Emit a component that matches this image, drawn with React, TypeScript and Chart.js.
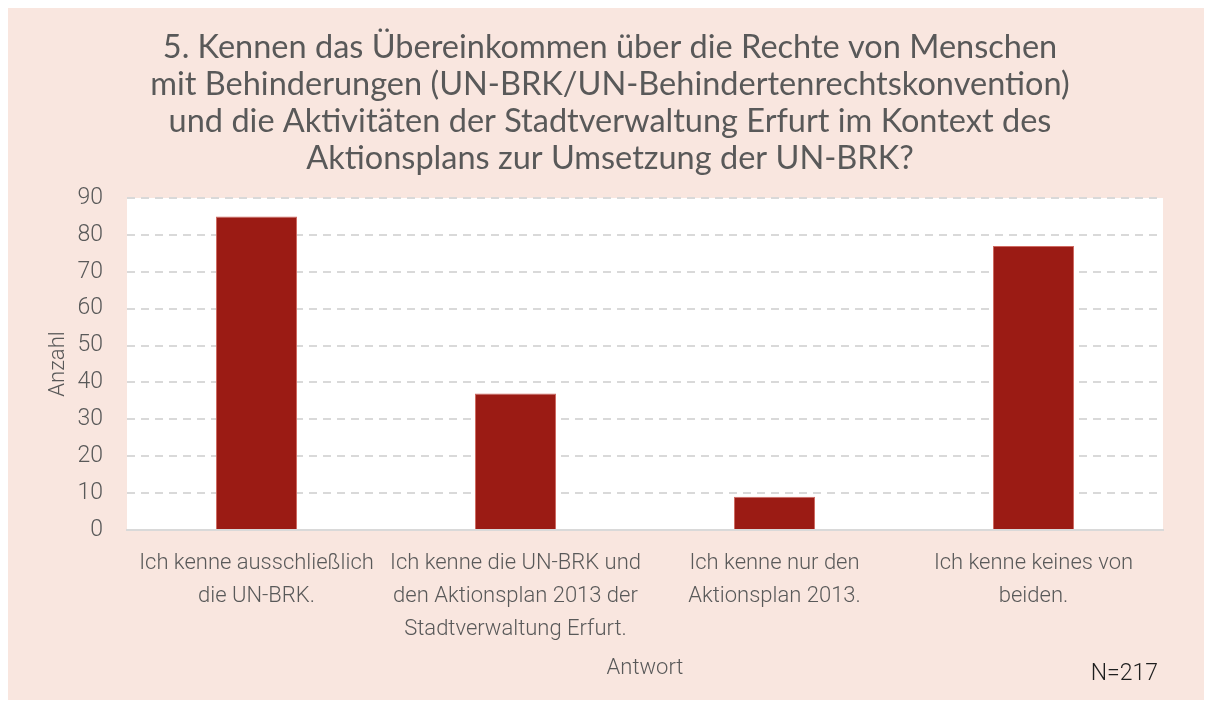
import React, { useEffect, useRef } from "react";
import { Chart, registerables } from "chart.js";

Chart.register(...registerables);

const titleLines = [
  "5. Kennen das Übereinkommen über die Rechte von Menschen",
  "mit Behinderungen (UN-BRK/UN-Behindertenrechtskonvention)",
  "und die Aktivitäten der Stadtverwaltung Erfurt im Kontext des",
  "Aktionsplans zur Umsetzung der UN-BRK?",
];

const categories: string[][] = [
  ["Ich kenne ausschließlich", "die UN-BRK."],
  ["Ich kenne die UN-BRK und", "den Aktionsplan 2013 der", "Stadtverwaltung Erfurt."],
  ["Ich kenne nur den", "Aktionsplan 2013."],
  ["Ich kenne keines von", "beiden."],
];

const counts = [85, 37, 9, 77];

const yAxisTitle = "Anzahl";
const xAxisTitle = "Antwort";
const sampleNote = "N=217";

const TEXT = "#595959";
const BAR = "#9b1b14";
const GRID = "#d9d9d9";
const BG = "#f9e6df";
const NARROW = "Roboto, 'DejaVu Sans Condensed', sans-serif";

export default function App() {
  const ref = useRef<HTMLCanvasElement | null>(null);

  useEffect(() => {
    if (!ref.current) return;

    const plotBg = {
      id: "plotBg",
      beforeDraw(chart: any) {
        const { ctx, chartArea } = chart;
        ctx.save();
        ctx.fillStyle = "#ffffff";
        ctx.fillRect(chartArea.left, chartArea.top, chartArea.right - chartArea.left, chartArea.bottom - chartArea.top);
        ctx.restore();
      },
    };

    const note = {
      id: "note",
      afterDraw(chart: any) {
        const { ctx } = chart;
        ctx.save();
        ctx.font = `300 23px ${NARROW}`;
        ctx.fillStyle = "#1e1e1e";
        ctx.textAlign = "right";
        ctx.textBaseline = "middle";
        ctx.fillText(sampleNote, 1151, 666);
        ctx.restore();
      },
    };

    const chart = new Chart(ref.current, {
      type: "bar",
      data: {
        labels: categories,
        datasets: [
          {
            data: counts,
            backgroundColor: BAR,
            borderColor: "#cf6a62",
            borderWidth: 1,
            barPercentage: 1,
            categoryPercentage: 0.313,
            yAxisID: "y",
          },
        ],
      },
      options: {
        responsive: false,
        animation: false,
        layout: { padding: { left: 8, right: 0, top: 0, bottom: 0 } },
        plugins: {
          legend: { display: false },
          tooltip: { enabled: false },
          title: {
            display: true,
            text: titleLines,
            color: TEXT,
            font: { family: "Lato, 'Open Sans', sans-serif", size: 32.5, weight: "normal", lineHeight: "37px" },
            padding: { top: 21, bottom: 21 },
          },
        },
        scales: {
          x: {
            grid: { display: false, drawTicks: false },
            border: { display: true, color: GRID, width: 2 },
            ticks: {
              color: TEXT,
              font: { family: NARROW, size: 22, weight: "300", lineHeight: "33px" },
              padding: 17,
              maxRotation: 0,
              autoSkip: false,
            },
            title: {
              display: true,
              text: xAxisTitle,
              color: TEXT,
              font: { family: NARROW, size: 22, weight: "300" },
              padding: { top: 0, bottom: 18 },
            },
            afterFit(scale: any) {
              scale.height = 170;
            },
          },
          y: {
            position: "left",
            min: 0,
            max: 90,
            grid: {
              color: GRID,
              lineWidth: 2,
              drawTicks: false,
            },
            border: { display: false, dash: [8, 6] },
            ticks: {
              stepSize: 10,
              color: TEXT,
              font: { family: NARROW, size: 23, weight: "300" },
              padding: 24,
            },
            title: {
              display: true,
              text: yAxisTitle,
              color: TEXT,
              font: { family: NARROW, size: 22, weight: "300" },
              padding: { top: 30, bottom: 0 },
            },
            afterFit(scale: any) {
              scale.width = 112;
            },
          },
          yRight: {
            position: "right",
            display: true,
            min: 0,
            max: 90,
            grid: { display: false, drawTicks: false },
            border: { display: false },
            ticks: { display: false },
            afterFit(scale: any) {
              scale.width = 42;
            },
          },
        },
      },
      plugins: [plotBg, note],
    });

    return () => chart.destroy();
  }, []);

  return (
    <div style={{ marginLeft: -1, width: 1198, height: 692, background: BG }}>
      <canvas ref={ref} width={1198} height={692} style={{ display: "block", width: 1198, height: 692 }} />
    </div>
  );
}
